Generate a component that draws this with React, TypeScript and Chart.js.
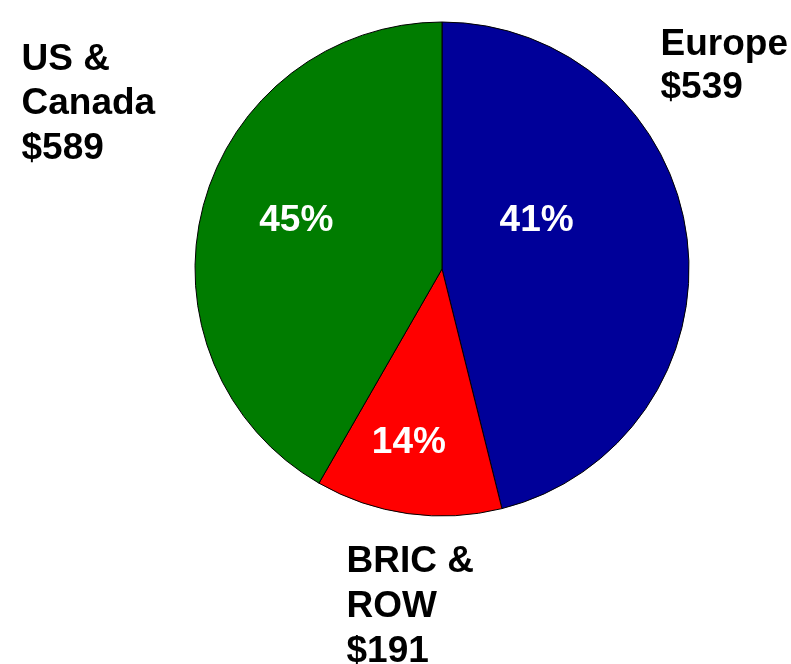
import React, { useEffect, useRef } from "react";
import { Chart, registerables } from "chart.js";

Chart.register(...registerables);

// Regions, in drawing order (clockwise from 12 o'clock)
const regions = ["Europe", "BRIC & ROW", "US & Canada"];
// Slice sizes as drawn in the picture (share of the circle, %)
const sliceShares = [46.1, 12.2, 41.7];
// Text shown on the chart
const amounts = ["$539", "$191", "$589"];
const percentLabels = ["41%", "14%", "45%"];
const outerLabelLines = [["Europe", "$539"], ["BRIC &", "ROW", "$191"], ["US &", "Canada", "$589"]];
const sliceColors = ["#000099", "#FF0000", "#007C00"];

const FONT = 'bold 37px "Liberation Sans", Arial, sans-serif';

// layout for text (canvas pixels / fractions of radius)
const outerLabelPos = [
  { x: 660.5, y: 54.5, lh: 43.5 },
  { x: 346.5, y: 571.7, lh: 45 },
  { x: 21.5, y: 69.5, lh: 44.5 },
];
const pctOffsets = [
  { dx: 0.383, dy: -0.155 },
  { dx: -0.134, dy: 0.746 },
  { dx: -0.59, dy: -0.155 },
];

const labelPlugin = {
  id: "pieLabels",
  afterDatasetsDraw(chart: any) {
    const ctx = chart.ctx;
    const meta = chart.getDatasetMeta(0);
    const arc = meta.data[0];
    if (!arc) return;
    const cx = arc.x;
    const cy = arc.y;
    const r = arc.outerRadius;
    ctx.save();
    ctx.font = FONT;
    ctx.textBaseline = "alphabetic";
    // percentages inside slices
    ctx.fillStyle = "#FFFFFF";
    ctx.textAlign = "center";
    percentLabels.forEach((t, i) => {
      const o = pctOffsets[i];
      ctx.fillText(t, cx + o.dx * r, cy + o.dy * r);
    });
    // outer labels
    ctx.fillStyle = "#000000";
    ctx.textAlign = "left";
    outerLabelLines.forEach((lines, i) => {
      const p = outerLabelPos[i];
      lines.forEach((line, j) => {
        ctx.fillText(line, p.x, p.y + j * p.lh);
      });
    });
    ctx.restore();
  },
};

export default function App() {
  const canvasRef = useRef<HTMLCanvasElement | null>(null);

  useEffect(() => {
    const canvas = canvasRef.current;
    if (!canvas) return;
    const chart = new Chart(canvas, {
      type: "pie",
      data: {
        labels: regions.map((r, i) => `${r} ${amounts[i]}`),
        datasets: [
          {
            data: sliceShares,
            backgroundColor: sliceColors,
            borderColor: "#000000",
            borderWidth: 1,
          },
        ],
      },
      options: {
        responsive: false,
        animation: false,
        devicePixelRatio: 1,
        radius: 247,
        layout: { padding: { left: 195, right: 102, top: 22, bottom: 148 } },
        plugins: {
          legend: { display: false },
          tooltip: { enabled: false },
          title: { display: false },
        },
      },
      plugins: [labelPlugin],
    });
    return () => chart.destroy();
  }, []);

  return (
    <div style={{ position: "absolute", left: 0, top: 0, width: 791, height: 664, background: "#FFFFFF" }}>
      <canvas ref={canvasRef} width={791} height={664} style={{ display: "block" }} />
    </div>
  );
}
